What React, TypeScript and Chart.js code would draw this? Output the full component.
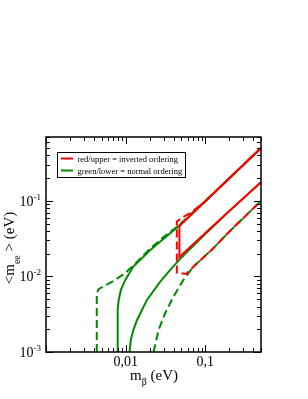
import React, { useEffect, useRef } from "react";
import { Chart, registerables } from "chart.js";

Chart.register(...registerables);

// Axis ranges
const X_MIN = 0.001;
const X_MAX = 0.5;
const Y_MIN = 0.001;
const Y_MAX = 0.7;

// Tick labels
const xLabelValues = [0.01, 0.1];
const xLabelTexts = ["0,01", "0,1"];
const yLabelValues = [0.001, 0.01, 0.1];
const yLabelExponents = ["-3", "-2", "-1"];

// Legend texts
const legendTexts = ["red/upper = inverted ordering", "green/lower = normal ordering"];

// Inverted ordering (red), solid: upper edge, vertical, lower edge
const redSolidX = [0.5, 0.2, 0.1, 0.0473, 0.0473, 0.1, 0.2, 0.5];
const redSolidY = [0.5, 0.199, 0.099, 0.0466, 0.0181, 0.0375, 0.0732, 0.177];

// Inverted ordering (red), dashed
const redDashedX = [0.5, 0.2, 0.094, 0.0644, 0.0507, 0.0439, 0.0439, 0.0574, 0.0644, 0.12, 0.2, 0.5];
const redDashedY = [0.5, 0.199, 0.0933, 0.0687, 0.0596, 0.0532, 0.0112, 0.0108, 0.0122, 0.0224, 0.0391, 0.1];

// Normal ordering (green), solid upper
const greenSolidUpperX = [0.00794, 0.00794, 0.00818, 0.00871, 0.0099, 0.01248, 0.0204, 0.0362, 0.0483, 0.1, 0.5];
const greenSolidUpperY = [0.001, 0.0036, 0.00489, 0.00663, 0.009, 0.0135, 0.0224, 0.0373, 0.0481, 0.099, 0.5];

// Normal ordering (green), solid lower
const greenSolidLowerX = [0.0112, 0.0116, 0.01248, 0.0139, 0.0185, 0.0272, 0.0362, 0.0483, 0.1, 0.2, 0.5];
const greenSolidLowerY = [0.001, 0.00144, 0.00195, 0.00265, 0.00489, 0.00853, 0.0122, 0.0171, 0.0365, 0.0732, 0.177];

// Normal ordering (green), dashed upper
const greenDashedUpperX = [0.00434, 0.00434, 0.0046, 0.00708, 0.0099, 0.0139, 0.0204, 0.0313, 0.0456, 0.1, 0.5];
const greenDashedUpperY = [0.001, 0.00604, 0.00682, 0.00872, 0.0111, 0.0156, 0.0235, 0.0344, 0.0467, 0.1, 0.5];

// Normal ordering (green), dashed lower
const greenDashedLowerX = [0.0224, 0.0259, 0.0313, 0.0398, 0.0531, 0.0708, 0.12, 0.2, 0.5];
const greenDashedLowerY = [0.001, 0.00195, 0.00326, 0.0054, 0.009, 0.0135, 0.0224, 0.0391, 0.1];

const RED = "rgb(255,0,0)";
const GREEN = "rgb(0,139,0)";
const SERIF = '"Liberation Serif", "Times New Roman", serif';

function pts(xs: number[], ys: number[]) {
  return xs.map((x, i) => ({ x, y: ys[i] }));
}

function ds(xs: number[], ys: number[], color: string, dashed: boolean) {
  return {
    data: pts(xs, ys),
    showLine: true,
    borderColor: color,
    backgroundColor: color,
    borderWidth: 2,
    borderDash: dashed ? [8, 4] : [],
    pointRadius: 0,
    fill: false,
    tension: 0,
  };
}

const framePlugin = {
  id: "frame",
  afterDraw(chart: any) {
    const ctx = chart.ctx as CanvasRenderingContext2D;
    const xs = chart.scales.x;
    const ys = chart.scales.y;
    const a = chart.chartArea;
    ctx.save();
    ctx.strokeStyle = "#000";
    ctx.fillStyle = "#000";
    ctx.lineWidth = 1.5;
    ctx.setLineDash([]);
    ctx.strokeRect(a.left, a.top, a.right - a.left, a.bottom - a.top);

    ctx.lineWidth = 1;
    const major = 7;
    const minor = 4;
    // x ticks
    for (let d = X_MIN; d <= X_MAX * 1.0001; d *= 10) {
      for (let k = 1; k <= 9; k++) {
        const v = k * d;
        if (v > X_MAX * 1.0001) break;
        const px = Math.round(xs.getPixelForValue(v)) + 0.5;
        const len = k === 1 ? major : minor;
        ctx.beginPath();
        ctx.moveTo(px, a.bottom);
        ctx.lineTo(px, a.bottom - len);
        ctx.moveTo(px, a.top);
        ctx.lineTo(px, a.top + len);
        ctx.stroke();
      }
    }
    // y ticks
    for (let d = Y_MIN; d <= Y_MAX * 1.0001; d *= 10) {
      for (let k = 1; k <= 9; k++) {
        const v = k * d;
        if (v > Y_MAX * 1.0001) break;
        const py = Math.round(ys.getPixelForValue(v)) + 0.5;
        const len = k === 1 ? major : minor;
        ctx.beginPath();
        ctx.moveTo(a.left, py);
        ctx.lineTo(a.left + len, py);
        ctx.moveTo(a.right, py);
        ctx.lineTo(a.right - len, py);
        ctx.stroke();
      }
    }

    // x tick labels
    ctx.font = `14px ${SERIF}`;
    ctx.textAlign = "center";
    ctx.textBaseline = "alphabetic";
    xLabelValues.forEach((v, i) => {
      ctx.fillText(xLabelTexts[i], xs.getPixelForValue(v), a.bottom + 14);
    });

    // y tick labels: 10 with superscript exponent
    yLabelValues.forEach((v, i) => {
      const py = ys.getPixelForValue(v);
      ctx.font = `9px ${SERIF}`;
      const ew = ctx.measureText(yLabelExponents[i]).width;
      ctx.font = `14px ${SERIF}`;
      const bw = ctx.measureText("10").width;
      const right = a.left - 5;
      ctx.textAlign = "left";
      ctx.fillText("10", right - ew - bw, py + 5);
      ctx.font = `9px ${SERIF}`;
      ctx.fillText(yLabelExponents[i], right - ew, py - 1);
    });

    // x title: m_beta (eV)
    {
      ctx.textAlign = "left";
      ctx.font = `15px ${SERIF}`;
      const w1 = ctx.measureText("m").width;
      const w3 = ctx.measureText(" (eV)").width;
      ctx.font = `10px ${SERIF}`;
      const w2 = ctx.measureText("β").width;
      const total = w1 + w2 + w3;
      let x = 154 - total / 2;
      const base = 380;
      ctx.font = `15px ${SERIF}`;
      ctx.fillText("m", x, base);
      x += w1;
      ctx.font = `10px ${SERIF}`;
      ctx.fillText("β", x, base + 5);
      x += w2;
      ctx.font = `15px ${SERIF}`;
      ctx.fillText(" (eV)", x, base);
    }

    // y title: <m_ee > (eV), rotated
    {
      ctx.save();
      ctx.textAlign = "left";
      ctx.font = `15px ${SERIF}`;
      const s1 = "<m";
      const s3 = " > (eV)";
      const w1 = ctx.measureText(s1).width;
      const w3 = ctx.measureText(s3).width;
      ctx.font = `10px ${SERIF}`;
      const w2 = ctx.measureText("ee").width;
      const total = w1 + w2 + w3;
      ctx.translate(13.5, 248 + total / 2);
      ctx.rotate(-Math.PI / 2);
      let u = 0;
      ctx.font = `15px ${SERIF}`;
      ctx.fillText(s1, u, 0);
      u += w1;
      ctx.font = `10px ${SERIF}`;
      ctx.fillText("ee", u, 6);
      u += w2;
      ctx.font = `15px ${SERIF}`;
      ctx.fillText(s3, u, 0);
      ctx.restore();
    }

    // legend
    {
      ctx.lineWidth = 1;
      ctx.strokeStyle = "#000";
      ctx.strokeRect(57.5, 152.5, 128, 25);
      const colors = [RED, GREEN];
      const rows = [158.5, 170.5];
      ctx.font = `8.5px ${SERIF}`;
      ctx.textAlign = "left";
      rows.forEach((y, i) => {
        ctx.strokeStyle = colors[i];
        ctx.lineWidth = 2;
        ctx.beginPath();
        ctx.moveTo(61, y);
        ctx.lineTo(73, y);
        ctx.stroke();
        ctx.fillStyle = "#000";
        ctx.fillText(legendTexts[i], 77.5, y + 3);
      });
    }
    ctx.restore();
  },
};

export default function App() {
  const ref = useRef<HTMLCanvasElement | null>(null);
  useEffect(() => {
    if (!ref.current) return;
    const chart = new Chart(ref.current, {
      type: "scatter",
      data: {
        datasets: [
          ds(redSolidX, redSolidY, RED, false),
          ds(redDashedX, redDashedY, RED, true),
          ds(greenSolidUpperX, greenSolidUpperY, GREEN, false),
          ds(greenSolidLowerX, greenSolidLowerY, GREEN, false),
          ds(greenDashedUpperX, greenDashedUpperY, GREEN, true),
          ds(greenDashedLowerX, greenDashedLowerY, GREEN, true),
        ] as any,
      },
      options: {
        animation: false,
        responsive: false,
        devicePixelRatio: 1,
        layout: { padding: { left: 46, top: 137, right: 47, bottom: 47 } },
        scales: {
          x: { type: "logarithmic", min: X_MIN, max: X_MAX, display: false },
          y: { type: "logarithmic", min: Y_MIN, max: Y_MAX, display: false },
        },
        plugins: { legend: { display: false }, tooltip: { enabled: false } },
        elements: { point: { radius: 0 } },
      } as any,
      plugins: [framePlugin],
    });
    return () => chart.destroy();
  }, []);
  return (
    <div style={{ position: "fixed", left: 0, top: 0, width: 308, height: 399, background: "#fff" }}>
      <canvas ref={ref} width={308} height={399} style={{ width: 308, height: 399, display: "block" }} />
    </div>
  );
}
